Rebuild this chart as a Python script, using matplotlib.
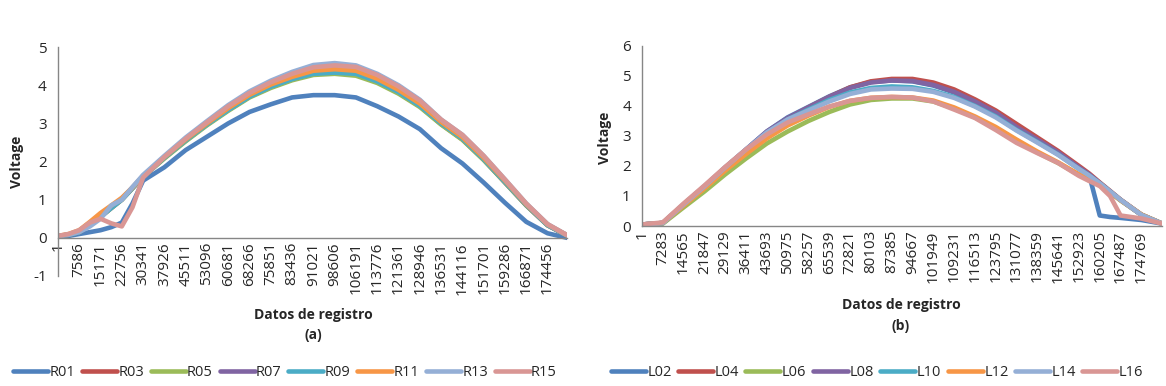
import matplotlib
matplotlib.use("Agg")
import matplotlib.pyplot as plt

plt.rcParams["font.family"] = ["Open Sans", "DejaVu Sans"]
plt.rcParams["axes.unicode_minus"] = False

COLORS = ["#4F81BD", "#C0504D", "#9BBB59", "#8064A2",
          "#4BACC6", "#F79646", "#95AFD6", "#D99694"]

# ---- panel (a) ----
LEFT_NAMES = ["R01", "R03", "R05", "R07", "R09", "R11", "R13", "R15"]
LEFT_TICKS = [1, 7586, 15171, 22756, 30341, 37926, 45511, 53096, 60681,
              68266, 75851, 83436, 91021, 98606, 106191, 113776, 121361,
              128946, 136531, 144116, 151701, 159286, 166871, 174456]
LEFT_X = [1, 3800, 7586, 11400, 15171, 19000, 22756, 26549, 30341, 37926,
          45511, 53096, 60681, 68266, 75851, 83436, 91021, 98606, 106191,
          113776, 121361, 128946, 136531, 144116, 151701, 159286, 166871,
          174456, 181400]
R01 = [0.05, 0.05, 0.1, 0.15, 0.2, 0.28, 0.4, 0.9, 1.5, 1.85, 2.3, 2.65, 3.0, 3.3,
       3.5, 3.68, 3.74, 3.74, 3.68, 3.45, 3.18, 2.85, 2.35, 1.95, 1.45, 0.92,
       0.42, 0.12, 0.0]
R03 = [0.05, 0.08, 0.15, 0.35, 0.55, 0.78, 1.0, 1.3, 1.6, 2.1, 2.55, 2.97, 3.35,
       3.7, 3.95, 4.15, 4.3, 4.33, 4.28, 4.08, 3.8, 3.45, 2.98, 2.58, 2.05, 1.45,
       0.85, 0.33, 0.06]
R05 = [0.05, 0.08, 0.15, 0.35, 0.55, 0.78, 1.0, 1.3, 1.6, 2.08, 2.53, 2.95, 3.33,
       3.68, 3.93, 4.13, 4.27, 4.3, 4.25, 4.06, 3.78, 3.43, 2.97, 2.57, 2.04,
       1.45, 0.85, 0.33, 0.06]
R07 = [0.05, 0.08, 0.16, 0.36, 0.56, 0.8, 1.02, 1.32, 1.62, 2.12, 2.58, 3.0, 3.4,
       3.75, 4.02, 4.22, 4.38, 4.42, 4.36, 4.15, 3.86, 3.5, 3.02, 2.62, 2.08,
       1.48, 0.87, 0.34, 0.06]
R09 = [0.05, 0.08, 0.15, 0.35, 0.55, 0.78, 1.0, 1.3, 1.6, 2.1, 2.55, 2.97, 3.35,
       3.7, 3.96, 4.16, 4.3, 4.33, 4.3, 4.1, 3.82, 3.46, 3.0, 2.6, 2.06, 1.46,
       0.86, 0.33, 0.06]
R11 = [0.05, 0.1, 0.2, 0.42, 0.65, 0.85, 1.05, 1.32, 1.62, 2.12, 2.58, 3.0, 3.4,
       3.75, 4.02, 4.22, 4.38, 4.42, 4.38, 4.17, 3.88, 3.52, 3.04, 2.64, 2.1,
       1.5, 0.88, 0.35, 0.07]
R13 = [0.05, 0.08, 0.15, 0.3, 0.5, 0.85, 1.0, 1.33, 1.65, 2.15, 2.63, 3.06, 3.48,
       3.84, 4.12, 4.35, 4.53, 4.58, 4.52, 4.3, 4.0, 3.62, 3.1, 2.7, 2.15, 1.53,
       0.9, 0.36, 0.07]
R15 = [0.05, 0.1, 0.2, 0.4, 0.5, 0.38, 0.3, 0.8, 1.58, 2.12, 2.6, 3.03, 3.45,
       3.8, 4.08, 4.3, 4.47, 4.52, 4.48, 4.27, 3.97, 3.6, 3.1, 2.7, 2.15, 1.53,
       0.9, 0.36, 0.07]

# ---- panel (b) ----
RIGHT_NAMES = ["L02", "L04", "L06", "L08", "L10", "L12", "L14", "L16"]
RIGHT_TICKS = [1, 7283, 14565, 21847, 29129, 36411, 43693, 50975, 58257,
               65539, 72821, 80103, 87385, 94667, 101949, 109231, 116513,
               123795, 131077, 138359, 145641, 152923, 160205, 167487, 174769]
RIGHT_X = [1, 7283, 14565, 21847, 29129, 36411, 43693, 50975, 58257, 65539,
           72821, 80103, 87385, 94667, 101949, 109231, 116513, 123795, 131077,
           138359, 145641, 152923, 156500, 160205, 163800, 167487, 174769,
           182000]
L02 = [0.05, 0.1, 0.72, 1.32, 1.95, 2.55, 3.15, 3.62, 3.97, 4.32, 4.62, 4.8,
       4.85, 4.82, 4.68, 4.45, 4.12, 3.75, 3.28, 2.85, 2.42, 1.92, 1.7, 0.35,
       0.3, 0.27, 0.2, 0.08]
L04 = [0.05, 0.1, 0.7, 1.3, 1.93, 2.52, 3.1, 3.58, 3.95, 4.3, 4.62, 4.82, 4.9,
       4.9, 4.78, 4.55, 4.22, 3.85, 3.4, 2.95, 2.5, 2.0, 1.75, 1.45, 1.17, 0.88,
       0.38, 0.08]
L06 = [0.05, 0.08, 0.62, 1.15, 1.72, 2.25, 2.75, 3.15, 3.5, 3.8, 4.05, 4.2,
       4.25, 4.25, 4.15, 3.92, 3.62, 3.27, 2.85, 2.45, 2.1, 1.7, 1.52, 1.38,
       1.12, 0.85, 0.38, 0.08]
L08 = [0.05, 0.1, 0.72, 1.32, 1.95, 2.55, 3.15, 3.6, 3.95, 4.3, 4.6, 4.78, 4.85,
       4.83, 4.7, 4.47, 4.15, 3.78, 3.3, 2.88, 2.45, 1.95, 1.72, 1.43, 1.15,
       0.87, 0.37, 0.08]
L10 = [0.05, 0.1, 0.7, 1.3, 1.92, 2.5, 3.08, 3.55, 3.88, 4.2, 4.45, 4.6, 4.65,
       4.62, 4.5, 4.3, 4.0, 3.65, 3.2, 2.8, 2.38, 1.9, 1.68, 1.42, 1.15, 0.87,
       0.37, 0.08]
L12 = [0.05, 0.1, 0.68, 1.25, 1.85, 2.4, 2.92, 3.35, 3.68, 3.97, 4.17, 4.27,
       4.3, 4.28, 4.18, 3.95, 3.65, 3.3, 2.88, 2.48, 2.12, 1.72, 1.55, 1.4, 1.13,
       0.86, 0.38, 0.08]
L14 = [0.05, 0.1, 0.72, 1.32, 1.95, 2.55, 3.12, 3.55, 3.85, 4.15, 4.4, 4.55,
       4.58, 4.57, 4.47, 4.27, 3.98, 3.62, 3.18, 2.78, 2.37, 1.9, 1.68, 1.42,
       1.15, 0.87, 0.37, 0.08]
L16 = [0.05, 0.12, 0.75, 1.35, 1.97, 2.55, 3.05, 3.45, 3.72, 3.98, 4.17, 4.27,
       4.3, 4.28, 4.15, 3.88, 3.6, 3.2, 2.77, 2.43, 2.1, 1.67, 1.5, 1.33, 1.0,
       0.35, 0.25, 0.08]

AXIS_GREY = "#868686"
TEXT = "#262626"


def draw_panel(ax, x, series, names, ticks, xmax, ylim, yticks):
    lines = []
    for values, name, color in zip(series, names, COLORS):
        ln, = ax.plot(x, values, color=color, lw=3.3, label=name,
                      solid_capstyle="round", solid_joinstyle="round")
        lines.append(ln)

    ax.set_xlim(1, xmax)
    ax.set_ylim(*ylim)
    ax.set_yticks(yticks)
    ax.set_xticks(ticks)
    ax.set_xticklabels([str(t) for t in ticks])

    # Excel-like axes: x axis crosses at 0
    ax.spines["top"].set_visible(False)
    ax.spines["right"].set_visible(False)
    ax.spines["bottom"].set_position(("data", 0))
    for s in ("left", "bottom"):
        ax.spines[s].set_color(AXIS_GREY)
        ax.spines[s].set_linewidth(1.0)
    ax.tick_params(axis="both", length=0, colors=TEXT)
    ax.tick_params(axis="x", pad=3, labelrotation=90, labelsize=11)
    ax.tick_params(axis="y", pad=8, labelsize=11)
    return lines


def main():
    fig = plt.figure(figsize=(11.66, 3.86), dpi=100)

    ax_a = fig.add_axes([0.0497, 0.285, 0.4366, 0.593])
    ax_b = fig.add_axes([0.5506, 0.4145, 0.446, 0.4665])

    lines_a = draw_panel(ax_a, LEFT_X,
                         [R01, R03, R05, R07, R09, R11, R13, R15],
                         LEFT_NAMES, LEFT_TICKS, 181400, (-1, 5),
                         [-1, 0, 1, 2, 3, 4, 5])
    lines_b = draw_panel(ax_b, RIGHT_X,
                         [L02, L04, L06, L08, L10, L12, L14, L16],
                         RIGHT_NAMES, RIGHT_TICKS, 182000, (0, 6),
                         [0, 1, 2, 3, 4, 5, 6])

    ax_a.set_ylabel("Voltage", fontsize=10, fontweight="bold", color=TEXT)
    ax_a.yaxis.set_label_coords(-0.066, 0.5)
    ax_b.set_ylabel("Voltage", fontsize=10, fontweight="bold", color=TEXT)
    ax_b.yaxis.set_label_coords(-0.058, 0.49)

    fig.text(313 / 1166, 1 - 315 / 386, "Datos de registro", ha="center",
             va="center", fontsize=10, fontweight="bold", color=TEXT)
    fig.text(313 / 1166, 1 - 335 / 386, "(a)", ha="center", va="center",
             fontsize=10, fontweight="bold", color=TEXT)
    fig.text(901 / 1166, 1 - 305 / 386, "Datos de registro", ha="center",
             va="center", fontsize=10, fontweight="bold", color=TEXT)
    fig.text(901 / 1166, 1 - 326 / 386, "(b)", ha="center", va="center",
             fontsize=10, fontweight="bold", color=TEXT)

    leg_kw = dict(ncol=8, frameon=False, fontsize=10.5, handlelength=2.4,
                  handletextpad=0.1, columnspacing=0.45, loc="center",
                  labelcolor=TEXT, borderpad=0.0)
    fig.legend(handles=lines_a, bbox_to_anchor=(285 / 1166, 1 - 373 / 386),
               **leg_kw)
    fig.legend(handles=lines_b, bbox_to_anchor=(877 / 1166, 1 - 373 / 386),
               **leg_kw)

    fig.savefig("out.png", dpi=100)


if __name__ == "__main__":
    main()
